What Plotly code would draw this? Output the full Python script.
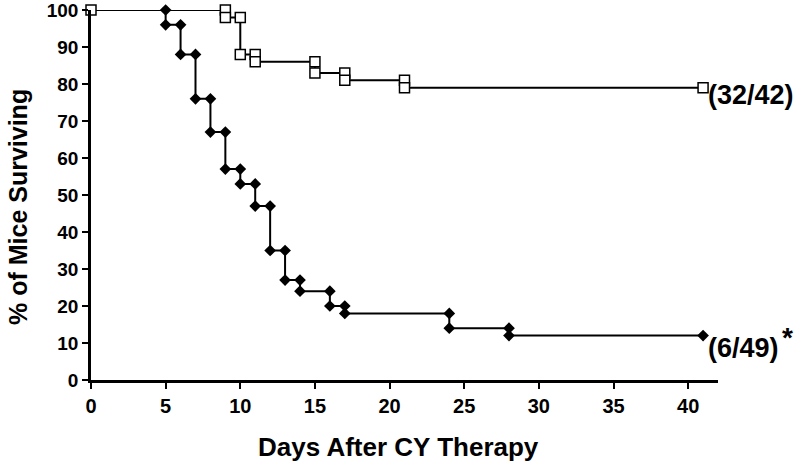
import plotly.graph_objects as go

# Kaplan-Meier step vertices
treated_days = [0, 9, 9, 10, 10, 11, 11, 15, 15, 17, 17, 21, 21, 41]
treated_surv = [100, 100, 98, 98, 88, 88, 86, 86, 83, 83, 81, 81, 79, 79]

control_days = [5, 5, 6, 6, 7, 7, 8, 8, 9, 9, 10, 10, 11, 11, 12, 12, 13, 13,
                14, 14, 16, 16, 17, 17, 24, 24, 28, 28, 41]
control_surv = [100, 96, 96, 88, 88, 76, 76, 67, 67, 57, 57, 53, 53, 47, 47, 35,
                35, 27, 27, 24, 24, 20, 20, 18, 18, 14, 14, 12, 12]

x_ticks = [0, 5, 10, 15, 20, 25, 30, 35, 40]
y_ticks = [0, 10, 20, 30, 40, 50, 60, 70, 80, 90, 100]

treated_label = "(32/42)"
control_label = "(6/49)"

FONT = "Liberation Sans, Arial, sans-serif"

fig = go.Figure()
fig.add_trace(go.Scatter(
    x=control_days, y=control_surv, mode="lines+markers",
    line=dict(color="black", width=2),
    marker=dict(symbol="diamond", size=9, color="black"),
    cliponaxis=False, showlegend=False))
fig.add_trace(go.Scatter(
    x=treated_days, y=treated_surv, mode="lines+markers",
    line=dict(color="black", width=2),
    marker=dict(symbol="square", size=10, color="white",
                line=dict(color="black", width=1.5)),
    cliponaxis=False, showlegend=False))

fig.add_annotation(x=41, y=treated_surv[-1], xref="x", yref="y",
                   text=treated_label, showarrow=False, xanchor="left",
                   yanchor="middle", xshift=3, yshift=-7,
                   font=dict(family=FONT, size=27, color="black", weight="bold"))
fig.add_annotation(x=41, y=control_surv[-1], xref="x", yref="y",
                   text=control_label, showarrow=False, xanchor="left",
                   yanchor="middle", xshift=3, yshift=-12,
                   font=dict(family=FONT, size=27, color="black", weight="bold"))
fig.add_annotation(x=41, y=control_surv[-1], xref="x", yref="y",
                   text="*", showarrow=False, xanchor="left",
                   yanchor="middle", xshift=77, yshift=-2,
                   font=dict(family=FONT, size=28, color="black", weight="bold"))

fig.add_annotation(x=(398.5 - 91) / 627, y=(380 - 447) / 370, xref="paper", yref="paper",
                   text="Days After CY Therapy", showarrow=False,
                   xanchor="center", yanchor="middle",
                   font=dict(family=FONT, size=26, color="black", weight="bold"))
fig.add_annotation(x=(17.5 - 91) / 627, y=(380 - 207.5) / 370, xref="paper", yref="paper",
                   text="% of Mice Surviving", showarrow=False, textangle=-90,
                   xanchor="center", yanchor="middle",
                   font=dict(family=FONT, size=25, color="black", weight="bold"))

fig.update_xaxes(range=[0, 42], tickvals=x_ticks, ticks="outside", ticklen=6,
                 tickwidth=2, tickcolor="black", showline=True, linewidth=2.5,
                 linecolor="black", showgrid=False, zeroline=False, automargin=False,
                 ticklabeloverflow="allow",
                 tickfont=dict(family=FONT, size=20, color="black", weight="bold"))
fig.update_yaxes(range=[0, 100], tickvals=y_ticks, ticks="outside", ticklen=6,
                 tickwidth=2, tickcolor="black", showline=True, linewidth=2.5,
                 linecolor="black", showgrid=False, zeroline=False, automargin=False,
                 ticklabeloverflow="allow",
                 tickfont=dict(family=FONT, size=19, color="black", weight="bold"))

fig.update_layout(width=798, height=463, margin=dict(l=91, r=80, t=10, b=83),
                  plot_bgcolor="white", paper_bgcolor="white")

# remove the page's default 8px body margin so the figure fills the window
fig.write_html("out.html",
               config={"displayModeBar": False},
               post_script="document.body.style.margin='0';"
                           "document.body.style.overflow='hidden';")
